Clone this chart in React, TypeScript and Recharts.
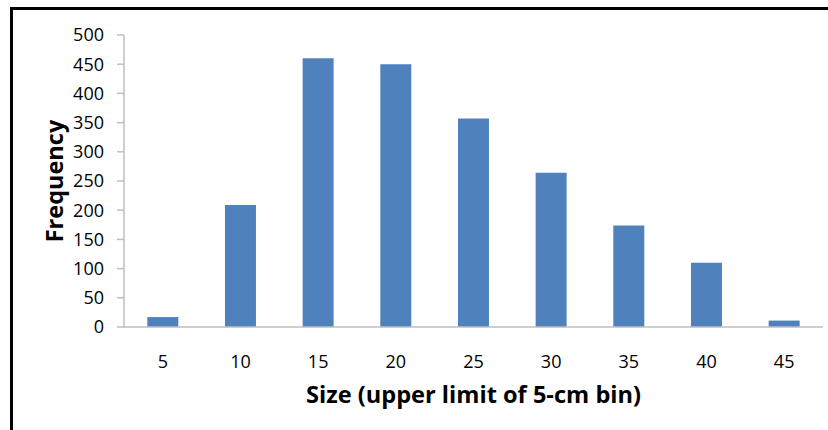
import React from "react";
import { BarChart, Bar, XAxis, YAxis, Label } from "recharts";

const categories = ["5", "10", "15", "20", "25", "30", "35", "40", "45"];
const frequencies = [17, 209, 460, 450, 357, 264, 174, 110, 11];
const yTicks = [0, 50, 100, 150, 200, 250, 300, 350, 400, 450, 500];

const data = categories.map((c, i) => ({ size: c, freq: frequencies[i] }));

const FONT = "'Open Sans', Lato, sans-serif";
const AXIS = "#BFBFBF";

export default function App() {
  return (
    <div style={{ position: "absolute", left: 0, top: 0, width: 828, height: 430, background: "#fff" }}>
      <div
        style={{
          position: "absolute",
          left: 10,
          top: 7,
          right: 0,
          bottom: 0,
          borderLeft: "3px solid #000",
          borderTop: "3px solid #000",
        }}
      />
      <div style={{ position: "absolute", left: 0, top: 0 }}>
        <BarChart
          width={828}
          height={430}
          data={data}
          margin={{ top: 35, right: 5, bottom: 0, left: 0 }}
          barCategoryGap="30%"
        >
          <XAxis
            dataKey="size"
            axisLine={{ stroke: AXIS, strokeWidth: 1.5 }}
            tickLine={false}
            tickMargin={22}
            tick={{ fill: "#000", fontSize: 18, fontFamily: FONT }}
            height={103}
          >
            <Label
              content={() => (
                <text x={473.5} y={403} textAnchor="middle" fontFamily={FONT} fontWeight="bold" fontSize={23.6} fill="#000">
                  Size (upper limit of 5-cm bin)
                </text>
              )}
            />
          </XAxis>
          <YAxis
            width={124}
            domain={[0, 500]}
            ticks={yTicks}
            interval={0}
            axisLine={{ stroke: AXIS, strokeWidth: 1.5 }}
            tickLine={{ stroke: AXIS, strokeWidth: 1.5 }}
            tickSize={7}
            tickMargin={13}
            tick={{ fill: "#000", fontSize: 18, fontFamily: FONT }}
          >
            <Label
              content={() => (
                <text
                  x={63}
                  y={181}
                  transform="rotate(-90 63 181)"
                  textAnchor="middle"
                  fontFamily={FONT}
                  fontWeight="bold"
                  fontSize={23.5}
                  fill="#000"
                >
                  Frequency
                </text>
              )}
            />
          </YAxis>
          <Bar dataKey="freq" fill="#4F81BD" isAnimationActive={false} />
        </BarChart>
      </div>
    </div>
  );
}
